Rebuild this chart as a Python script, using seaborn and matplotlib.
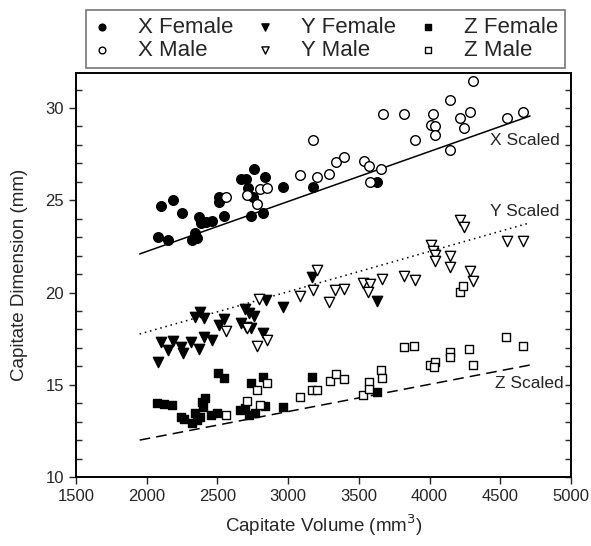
import numpy as np
import pandas as pd
import matplotlib
matplotlib.use('Agg')
import matplotlib.pyplot as plt
from matplotlib.ticker import MultipleLocator
import seaborn as sns

# ---- data ----
x_female_vol = [2099, 2184, 2248, 2372, 2384, 2419, 2460, 2511, 2511, 2547, 2342, 2318, 2356,
                2082, 2153, 2665, 2700, 2759, 2837, 2719, 2754, 2735, 2825, 2966, 3174, 3627]
x_female_dim = [24.70, 25.00, 24.29, 24.11, 23.75, 23.84, 23.89, 25.19, 24.92, 24.15, 23.21, 22.85, 22.95,
                23.02, 22.85, 26.15, 26.14, 26.69, 26.28, 25.65, 25.19, 24.16, 24.29, 25.73, 25.70, 25.97]

x_male_vol = [2561, 2707, 2801, 2849, 2778, 3084, 3178, 3207, 3291, 3339, 3398, 3537, 3572, 3655, 3579,
              3669, 3822, 3897, 4027, 4011, 4039, 4039, 4145, 4145, 4216, 4287, 4244, 4305, 4546, 4659]
x_male_dim = [25.16, 25.28, 25.59, 25.68, 24.80, 26.37, 28.27, 26.28, 26.41, 27.06, 27.36, 27.13, 26.87, 26.69, 26.01,
              29.67, 29.67, 28.27, 29.67, 29.08, 29.04, 28.54, 30.43, 27.72, 29.44, 29.77, 28.93, 31.46, 29.48, 29.77]

y_female_vol = [3169, 2082, 2101, 2184, 2153, 2243, 2255, 2313, 2372, 2407, 2464, 2342, 2377, 2407,
                2511, 2547, 2667, 2702, 2735, 2695, 2723, 2759, 2825, 2842, 2961, 3627]
y_female_dim = [20.86, 16.25, 17.33, 17.37, 16.88, 17.06, 16.70, 17.30, 16.94, 17.60, 17.42, 18.66, 18.96, 18.60,
                18.24, 18.55, 18.33, 18.15, 18.06, 19.11, 18.91, 18.73, 17.79, 19.59, 19.23, 19.54]

y_male_vol = [3204, 2796, 3084, 3178, 3291, 3334, 3393, 2559, 2707, 2778, 2849, 3532, 3579, 3567, 3666,
              3822, 3897, 4011, 4027, 4039, 4039, 4145, 4145, 4287, 4305, 4216, 4244, 4546, 4659]
y_male_dim = [21.22, 19.65, 19.83, 20.14, 19.47, 20.14, 20.19, 17.93, 18.06, 17.10, 17.42, 20.53, 20.46, 20.04, 20.73,
              20.91, 20.68, 22.57, 22.27, 22.03, 21.72, 21.98, 21.40, 21.18, 20.64, 23.93, 23.57, 22.81, 22.81]

z_female_vol = [2075, 2122, 2177, 2243, 2266, 2318, 2342, 2354, 2377, 2389, 2412, 2400, 2453, 2495,
                2506, 2547, 2660, 2695, 2723, 2766, 2735, 2825, 2837, 2961, 3171, 3627]
z_female_dim = [13.99, 13.96, 13.90, 13.27, 13.13, 12.91, 13.45, 13.09, 13.24, 14.08, 14.27, 13.81, 13.36, 13.45,
                15.62, 15.35, 13.63, 13.72, 13.36, 13.45, 15.11, 15.40, 13.85, 13.81, 15.40, 14.62]

z_male_vol = [2561, 2707, 2801, 2782, 2853, 3084, 3171, 3207, 3296, 3339, 3398, 3532, 3574, 3569, 3657,
              3666, 3822, 3893, 4003, 4039, 4034, 4145, 4145, 4281, 4310, 4541, 4659, 4216, 4239]
z_male_dim = [13.36, 14.14, 13.90, 14.72, 15.08, 14.35, 14.72, 14.72, 15.20, 15.58, 15.30, 14.44, 15.17, 14.75, 15.80,
              15.35, 17.06, 17.12, 16.07, 16.25, 15.98, 16.79, 16.49, 16.92, 16.07, 17.60, 17.12, 20.04, 20.35]

# scaled lines (end points)
line_vol = [1950, 4710]
x_scaled = [22.09, 29.57]
y_scaled = [17.75, 23.78]
z_scaled = [12.00, 16.07]

sns.set_style('ticks')
plt.rcParams['font.family'] = ['Liberation Sans', 'DejaVu Sans']

fig = plt.figure(figsize=(5.91, 5.46), dpi=100)
ax = fig.add_axes([0.1286, 0.1264, 0.8376, 0.7399])

groups = [
    ('X Female', x_female_vol, x_female_dim, 'o', 'black', 48),
    ('X Male', x_male_vol, x_male_dim, 'o', 'white', 48),
    ('Y Female', y_female_vol, y_female_dim, 'v', 'black', 55),
    ('Y Male', y_male_vol, y_male_dim, 'v', 'white', 55),
    ('Z Female', z_female_vol, z_female_dim, 's', 'black', 34),
    ('Z Male', z_male_vol, z_male_dim, 's', 'white', 34),
]
for name, xs, ys, mk, fc, s in groups:
    d = pd.DataFrame({'vol': xs, 'dim': ys})
    sns.scatterplot(data=d, x='vol', y='dim', marker=mk, color=fc, edgecolor='black',
                    linewidth=1.0, s=s, label=name, ax=ax, zorder=3)

sns.lineplot(x=line_vol, y=x_scaled, color='black', linewidth=1.1, ax=ax, legend=False)
sns.lineplot(x=line_vol, y=y_scaled, color='black', linewidth=1.1, linestyle=(0, (1, 2.5)), ax=ax, legend=False)
sns.lineplot(x=line_vol, y=z_scaled, color='black', linewidth=1.1, linestyle=(0, (7, 4)), ax=ax, legend=False)

ax.text(4430, 28.25, 'X Scaled', fontsize=12.5, va='center', ha='left')
ax.text(4430, 24.4, 'Y Scaled', fontsize=12.5, va='center', ha='left')
ax.text(4465, 15.05, 'Z Scaled', fontsize=12.5, va='center', ha='left')

ax.set_xlim(1500, 5000)
ax.set_ylim(10, 31.9)
ax.xaxis.set_major_locator(MultipleLocator(500))
ax.yaxis.set_major_locator(MultipleLocator(5))
ax.yaxis.set_minor_locator(MultipleLocator(1))
ax.tick_params(axis='both', which='major', direction='out', length=5, width=1, labelsize=12)
ax.tick_params(axis='x', which='major', pad=4)
ax.tick_params(axis='y', which='minor', direction='in', length=4, width=1, left=True)
ax.tick_params(axis='x', which='minor', bottom=False)

# right side ticks point inward, no labels
ax2 = ax.twinx()
ax2.set_ylim(ax.get_ylim())
ax2.yaxis.set_major_locator(MultipleLocator(5))
ax2.yaxis.set_minor_locator(MultipleLocator(1))
ax2.tick_params(axis='y', which='both', direction='in', length=4, width=1, labelright=False)

for a in (ax, ax2):
    for sp in a.spines.values():
        sp.set_linewidth(1.2)
        sp.set_color('black')

ax.set_xlabel('Capitate Volume (mm$^3$)', fontsize=13.5, labelpad=6)
ax.set_ylabel('Capitate Dimension (mm)', fontsize=13.5, labelpad=13)

leg = ax.legend(loc='upper left', bbox_to_anchor=(0.146, 0.982), bbox_transform=fig.transFigure,
                ncol=3, frameon=True, fancybox=False, edgecolor='#555555', fontsize=16,
                markerscale=0.7, handlelength=0.8, handletextpad=1.2, columnspacing=1.05,
                labelspacing=0.1, borderpad=0.32, borderaxespad=0)
leg.get_frame().set_linewidth(1.2)

fig.savefig('out.png', dpi=100, facecolor='white')
